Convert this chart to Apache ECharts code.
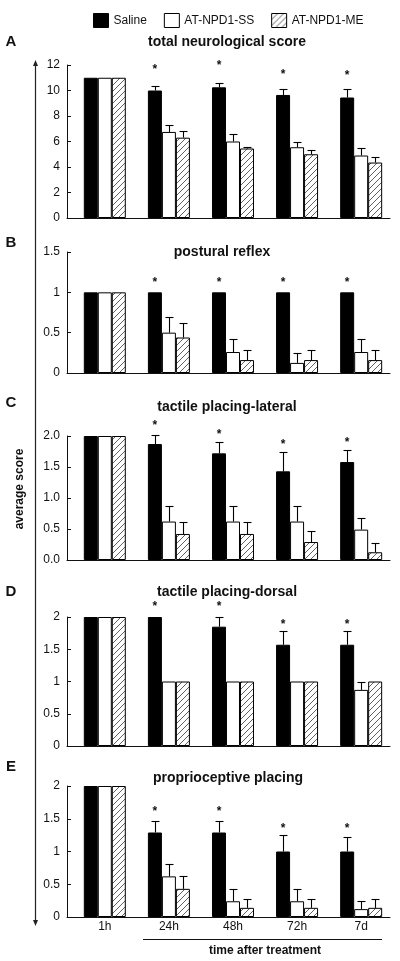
<!DOCTYPE html>
<html><head><meta charset="utf-8">
<script src="https://cdn.jsdelivr.net/npm/echarts@6/dist/echarts.min.js"></script>
<style>html,body{margin:0;padding:0;background:#fff}#c{width:400px;height:961px}</style>
</head><body><div id="c"></div>
<script>
// ---------- data ----------
const categories = ['1h', '24h', '48h', '72h', '7d'];
const seriesNames = ['Saline', 'AT-NPD1-SS', 'AT-NPD1-ME'];
const panelLetters = ['A', 'B', 'C', 'D', 'E'];
const panelTitles = ['total neurological score', 'postural reflex', 'tactile placing-lateral', 'tactile placing-dorsal', 'proprioceptive placing'];
const xAxisTitle = 'time after treatment';
const yAxisTitle = 'average score';

// A: total neurological score
const salineA = [11, 10.0, 10.25, 9.65, 9.45];
const salineErrA = [0, 0.35, 0.35, 0.45, 0.65];
const ssA = [11, 6.75, 6.0, 5.55, 4.9];
const ssErrA = [0, 0.55, 0.6, 0.45, 0.6];
const meA = [11, 6.3, 5.45, 5.0, 4.35];
const meErrA = [0, 0.5, 0.15, 0.3, 0.45];
const starA = [null, 11.85, 12.2, 11.45, 11.4];

// B: postural reflex
const salineB = [1, 1, 1, 1, 1];
const salineErrB = [0, 0, 0, 0, 0];
const ssB = [1, 0.5, 0.26, 0.125, 0.26];
const ssErrB = [0, 0.19, 0.16, 0.125, 0.16];
const meB = [1, 0.44, 0.16, 0.16, 0.16];
const meErrB = [0, 0.18, 0.13, 0.13, 0.13];
const starB = [null, 1.16, 1.16, 1.16, 1.16];

// C: tactile placing-lateral
const salineC = [2, 1.87, 1.72, 1.43, 1.58];
const salineErrC = [0, 0.14, 0.18, 0.31, 0.19];
const ssC = [2, 0.62, 0.62, 0.62, 0.49];
const ssErrC = [0, 0.25, 0.25, 0.25, 0.18];
const meC = [2, 0.42, 0.42, 0.29, 0.125];
const meErrC = [0, 0.2, 0.2, 0.17, 0.15];
const starC = [null, 2.21, 2.07, 1.91, 1.94];

// D: tactile placing-dorsal
const salineD = [2, 2, 1.85, 1.57, 1.57];
const salineErrD = [0, 0, 0.15, 0.21, 0.21];
const ssD = [2, 1, 1, 1, 0.87];
const ssErrD = [0, 0, 0, 0, 0.13];
const meD = [2, 1, 1, 1, 1];
const meErrD = [0, 0, 0, 0, 0];
const starD = [null, 2.21, 2.21, 1.93, 1.93];

// E: proprioceptive placing
const salineE = [2, 1.29, 1.29, 1.0, 1.0];
const salineErrE = [0, 0.17, 0.17, 0.25, 0.22];
const ssE = [2, 0.62, 0.24, 0.24, 0.12];
const ssErrE = [0, 0.19, 0.18, 0.18, 0.13];
const meE = [2, 0.43, 0.14, 0.14, 0.14];
const meErrE = [0, 0.2, 0.14, 0.14, 0.14];
const starE = [null, 1.65, 1.65, 1.39, 1.39];

// y axes: max, interval, decimals of tick labels
const yMax = [12, 1.5, 2, 2, 2];
const yInterval = [2, 0.5, 0.5, 0.5, 0.5];
const yDecimals = [-1, -1, 1, -1, -1];

// ---------- layout ----------
const gridTop = [65, 252, 436, 617, 786];
const gridHeight = [153, 121, 124, 129, 131];
const gridLeft = 67, gridWidth = 323;
const barW = 14;
const titleY = [42, 252, 407, 592, 778];
const titleX = [227, 222, 227, 227, 228];
const letterY = [42, 243, 403, 592, 767];
const FONT = '"Liberation Sans", Arial, Helvetica, sans-serif';
const INK = '#111';

const values = [
  [salineA, ssA, meA], [salineB, ssB, meB], [salineC, ssC, meC], [salineD, ssD, meD], [salineE, ssE, meE]
];
const errs = [
  [salineErrA, ssErrA, meErrA], [salineErrB, ssErrB, meErrB], [salineErrC, ssErrC, meErrC],
  [salineErrD, ssErrD, meErrD], [salineErrE, ssErrE, meErrE]
];
const stars = [starA, starB, starC, starD, starE];

function hatchCanvas() {
  const c = document.createElement('canvas');
  c.width = 6; c.height = 6;
  const g = c.getContext('2d');
  g.strokeStyle = '#3a3a3a';
  g.lineWidth = 0.8;
  g.beginPath();
  g.moveTo(0, 6); g.lineTo(6, 0);
  g.moveTo(-1, 1); g.lineTo(1, -1);
  g.moveTo(5, 7); g.lineTo(7, 5);
  g.stroke();
  return c;
}
const fills = ['#000', '#fff', { image: hatchCanvas(), repeat: 'repeat' }];

const grids = [], xAxes = [], yAxes = [], series = [];
for (let p = 0; p < 5; p++) {
  grids.push({ left: gridLeft, width: gridWidth, top: gridTop[p], height: gridHeight[p], containLabel: false });
  const last = p === 4;
  xAxes.push({
    type: 'value', gridIndex: p, min: -0.59, max: 4.45,
    splitLine: { show: false },
    axisLine: { show: true, onZero: false, lineStyle: { color: INK, width: 1 } },
    axisTick: { show: false },
    axisLabel: last ? {
      show: true, customValues: [0, 1, 2, 3, 4], formatter: v => categories[Math.round(v)],
      color: INK, fontSize: 12, fontFamily: FONT, margin: 4
    } : { show: false }
  });
  const dec = yDecimals[p];
  yAxes.push({
    type: 'value', gridIndex: p, min: 0, max: yMax[p], interval: yInterval[p],
    splitLine: { show: false },
    axisLine: { show: true, onZero: false, lineStyle: { color: INK, width: 1 } },
    axisTick: { show: true, inside: true, length: 4, lineStyle: { color: INK } },
    axisLabel: {
      color: INK, fontSize: 12, fontFamily: FONT, margin: 7,
      formatter: v => dec >= 0 ? v.toFixed(dec) : String(v)
    }
  });
  for (let s = 0; s < 3; s++) {
    series.push({
      type: 'bar', name: seriesNames[s], xAxisIndex: p, yAxisIndex: p,
      data: values[p][s].map((v, i) => [i, v]),
      barWidth: barW, barGap: '0%',
      itemStyle: { color: fills[s], borderColor: '#000', borderWidth: 1 },
      silent: true, animation: false
    });
  }
  const ebData = [];
  for (let s = 0; s < 3; s++) values[p][s].forEach((v, i) => {
    const e = errs[p][s][i];
    if (e > 0) ebData.push([i, v, v + e, s]);
  });
  series.push({
    type: 'custom', xAxisIndex: p, yAxisIndex: p, data: ebData, silent: true, animation: false, z: 5,
    clip: false,
    encode: { x: 0, y: [1, 2] },
    renderItem: (params, api) => {
      const x = api.value(0), lo = api.value(1), hi = api.value(2), s = api.value(3);
      const a = api.coord([x, lo]), b = api.coord([x, hi]);
      const cx = Math.round(a[0] + (s - 1) * barW) + 0.5;
      const yb = Math.round(b[1]) + 0.5;
      const st = { stroke: '#000', lineWidth: 1.1 };
      return { type: 'group', children: [
        { type: 'line', shape: { x1: cx, y1: a[1], x2: cx, y2: yb }, style: st },
        { type: 'line', shape: { x1: cx - 4, y1: yb, x2: cx + 4, y2: yb }, style: st }
      ] };
    }
  });
  series.push({
    type: 'custom', xAxisIndex: p, yAxisIndex: p, silent: true, animation: false, z: 6, clip: false,
    data: stars[p].map((v, i) => v == null ? null : [i, v]).filter(d => d),
    encode: { x: 0, y: 1 },
    renderItem: (params, api) => {
      const pt = api.coord([api.value(0), api.value(1)]);
      return { type: 'text', x: pt[0] - barW, y: pt[1] + 3,
        style: { text: '*', fill: INK, font: 'bold 12px ' + FONT, align: 'center', verticalAlign: 'middle' } };
    }
  });
}

const graphics = [];
for (let p = 0; p < 5; p++) {
  graphics.push({ type: 'text', x: 11, y: letterY[p],
    style: { text: panelLetters[p], fill: INK, font: 'bold 15px ' + FONT, align: 'center', verticalAlign: 'middle' } });
  graphics.push({ type: 'text', x: titleX[p], y: titleY[p],
    style: { text: panelTitles[p], fill: INK, font: 'bold 14px ' + FONT, align: 'center', verticalAlign: 'middle' } });
}
graphics.push({ type: 'text', x: 20, y: 489, rotation: Math.PI / 2,
  style: { text: yAxisTitle, fill: INK, font: 'bold 12px ' + FONT, align: 'center', verticalAlign: 'middle' } });
graphics.push({ type: 'line', shape: { x1: 35.5, y1: 63, x2: 35.5, y2: 923 }, style: { stroke: '#222', lineWidth: 1.2 } });
graphics.push({ type: 'polygon', shape: { points: [[35.5, 60], [33, 66], [38, 66]] }, style: { fill: '#222' } });
graphics.push({ type: 'polygon', shape: { points: [[35.5, 926], [33, 920], [38, 920]] }, style: { fill: '#222' } });
graphics.push({ type: 'line', shape: { x1: 143, y1: 939.5, x2: 382, y2: 939.5 }, style: { stroke: INK, lineWidth: 1 } });
graphics.push({ type: 'text', x: 265, y: 951,
  style: { text: xAxisTitle, fill: INK, font: 'bold 12px ' + FONT, align: 'center', verticalAlign: 'middle' } });

const chart = echarts.init(document.getElementById('c'), null, { renderer: 'canvas' });
chart.setOption({
  animation: false,
  backgroundColor: '#fff',
  legend: {
    data: seriesNames, left: 88, top: 8, itemWidth: 15, itemHeight: 14, itemGap: 17, icon: 'rect',
    textStyle: { color: INK, fontSize: 12, fontFamily: FONT }, selectedMode: false,
    itemStyle: { borderColor: '#000', borderWidth: 1 }
  },
  grid: grids, xAxis: xAxes, yAxis: yAxes, series: series, graphic: graphics
});
</script>
</body></html>
